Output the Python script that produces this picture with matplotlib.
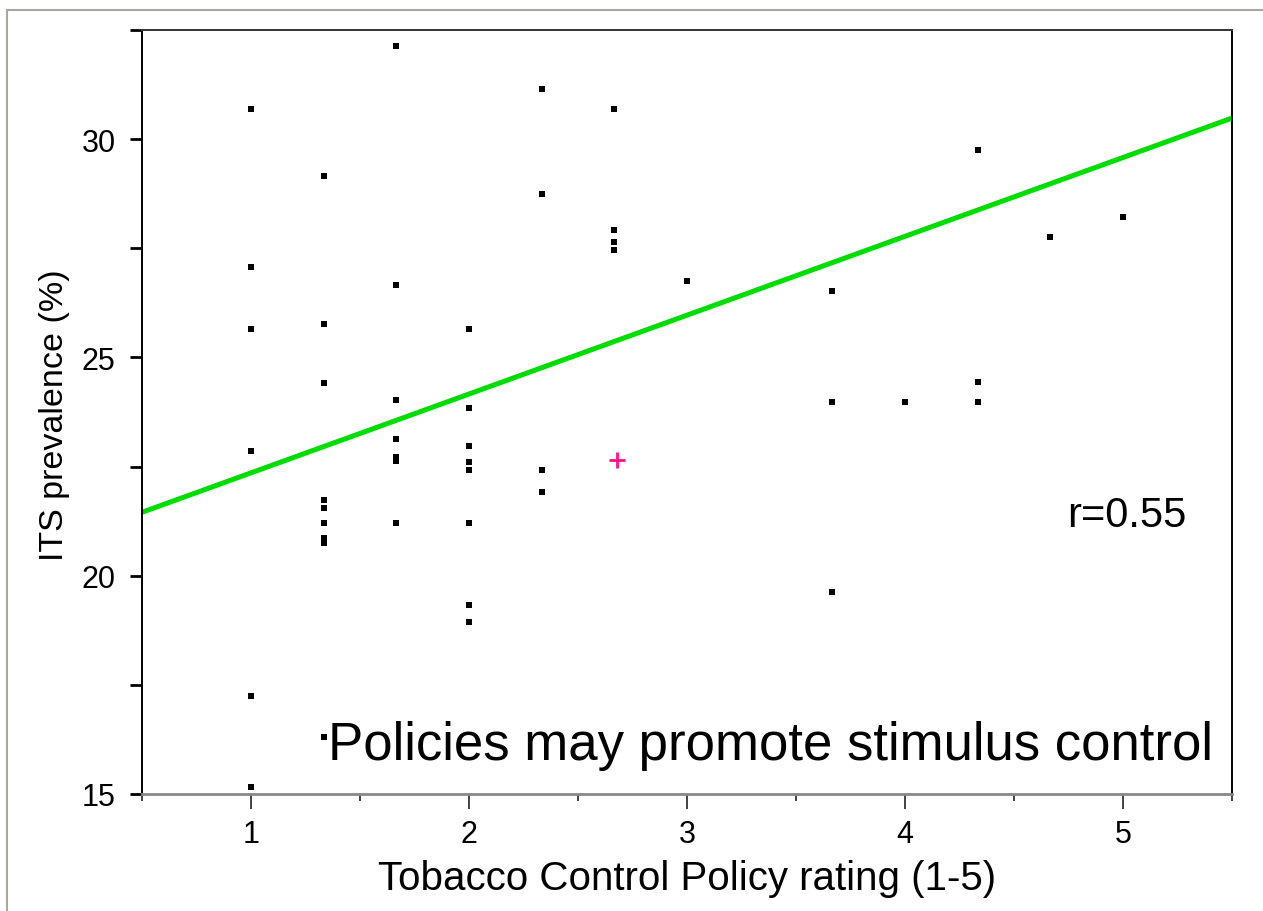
"""
Scatter of ITS prevalence against tobacco control policy rating,
with the fitted regression line and r value.
"""

import numpy as np
import matplotlib
matplotlib.use("Agg")
import matplotlib.pyplot as plt
from matplotlib.lines import Line2D
from matplotlib.ticker import MultipleLocator

plt.rcParams['font.family'] = ['Liberation Sans', 'DejaVu Sans']

# policy rating (x) for each point
policy_rating = (
    [1.0] * 6
    + [1.333] * 9
    + [1.667] * 7
    + [2.0] * 8
    + [2.333] * 4
    + [2.667] * 4
    + [3.0]
    + [3.667] * 3
    + [4.0]
    + [4.333] * 3
    + [4.667]
    + [5.0]
)

# ITS prevalence (%) for each point, same order
its_prevalence = [
    30.69, 27.06, 25.65, 22.85, 17.24, 15.15,
    29.16, 25.77, 24.42, 21.74, 21.56, 21.21, 20.86, 20.74, 16.30,
    32.14, 26.65, 24.02, 23.14, 22.73, 22.62, 21.21,
    25.65, 23.84, 22.96, 22.61, 22.43, 21.21, 19.34, 18.93,
    31.15, 28.75, 22.43, 21.91,
    30.68, 27.93, 27.64, 27.47,
    26.76,
    26.53, 23.97, 19.63,
    23.97,
    29.75, 24.43, 23.97,
    27.76,
    28.22,
]

# highlighted point (pink cross)
highlight_x = [2.68]
highlight_y = [22.64]

# regression line y = intercept + slope * x
fit_intercept = 20.55
fit_slope = 1.806
r_value = 0.55

x_min, x_max = 0.5, 5.5
y_min, y_max = 15, 32.5

fig = plt.figure(figsize=(12.63, 9.12), dpi=100)
ax = fig.add_axes([142 / 1263, 1 - 795 / 912, (1232 - 142) / 1263, (795 - 31) / 912])

# scatter points
ax.plot(policy_rating, its_prevalence, linestyle='none', marker='s',
        markersize=4.2, color='black', markeredgewidth=0, zorder=3)

# fitted line
fit_x = np.array([x_min, x_max])
ax.plot(fit_x, fit_intercept + fit_slope * fit_x, color='#00dd00',
        linewidth=3.6, solid_capstyle='butt', zorder=2, clip_on=False)

# highlighted point
ax.plot(highlight_x, highlight_y, linestyle='none', marker='+',
        markersize=11, markeredgewidth=2, color='#ff1088', zorder=4)

ax.set_xlim(x_min, x_max)
ax.set_ylim(y_min, y_max)

ax.xaxis.set_major_locator(MultipleLocator(1))
ax.xaxis.set_minor_locator(MultipleLocator(0.5))
ax.yaxis.set_major_locator(MultipleLocator(5))
ax.yaxis.set_minor_locator(MultipleLocator(2.5))

ax.tick_params(axis='x', which='major', length=11, width=1.2, colors='#222222',
               labelsize=22, pad=7, labelcolor='black')
ax.tick_params(axis='x', which='minor', length=5, width=1.2, colors='#222222')
ax.tick_params(axis='y', which='both', length=9, width=2, colors='black',
               labelsize=22, pad=10)

for name in ['left', 'right']:
    ax.spines[name].set_color('black')
    ax.spines[name].set_linewidth(1.4)
ax.spines['top'].set_color('#333333')
ax.spines['top'].set_linewidth(1.4)
ax.spines['bottom'].set_color('#888888')
ax.spines['bottom'].set_linewidth(2)

# labels
fig.text(0.5440, 0.024, 'Tobacco Control Policy rating (1-5)', fontsize=29,
         ha='center', va='baseline')
fig.text(0.0428, 0.545, 'ITS prevalence (%)', fontsize=24.5, rotation=90,
         ha='center', va='center')

# annotations
fig.text(1187 / 1263, 1 - 527 / 912, f'r={r_value}', fontsize=30,
         ha='right', va='baseline')
fig.text(328 / 1263, 1 - 760 / 912, 'Policies may promote stimulus control',
         fontsize=38, ha='left', va='baseline')

# outer frame lines
frame_color = '#a8a8a0'
fig.add_artist(Line2D([7 / 1263, 1], [1 - 11 / 912, 1 - 11 / 912],
                      transform=fig.transFigure, color=frame_color, linewidth=1.5))
fig.add_artist(Line2D([7 / 1263, 7 / 1263], [0, 1 - 11 / 912],
                      transform=fig.transFigure, color=frame_color, linewidth=1.5))

fig.savefig('out.png', dpi=100)
